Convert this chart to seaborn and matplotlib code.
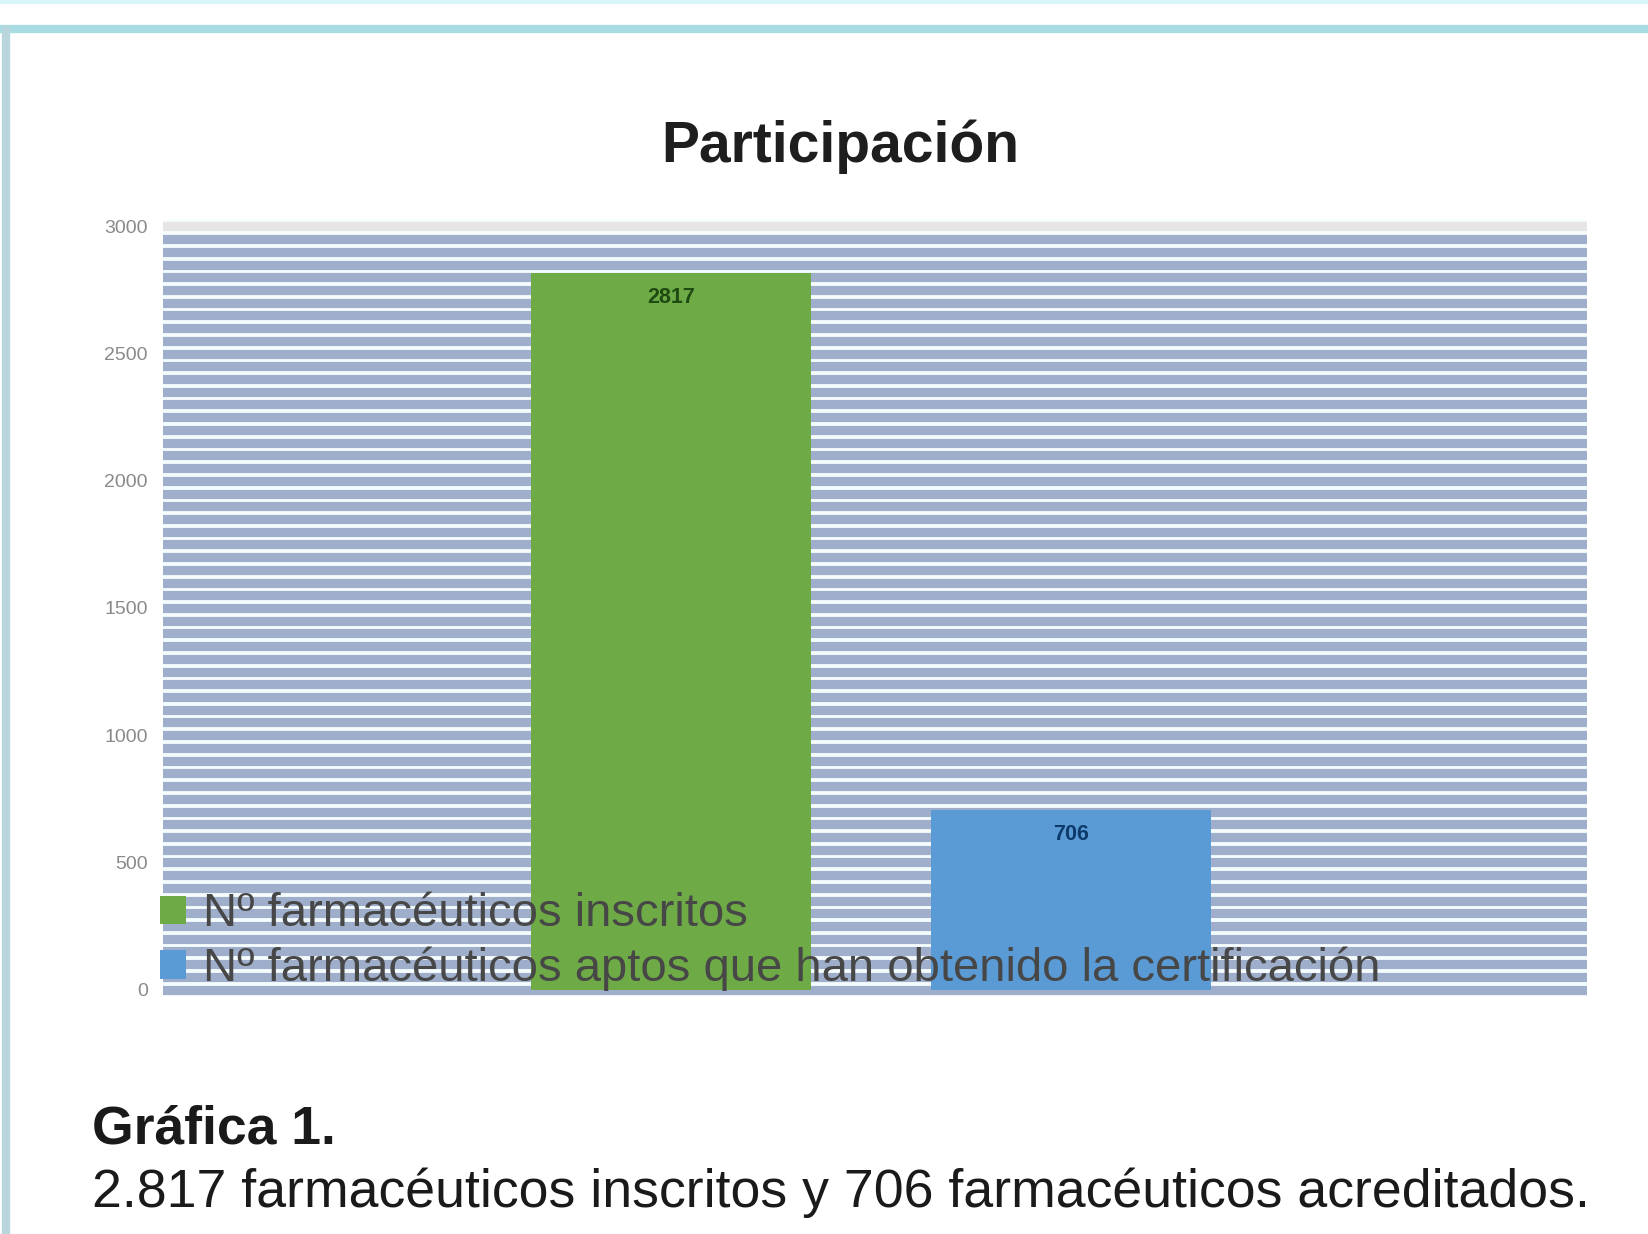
import matplotlib
matplotlib.use("Agg")
import matplotlib.pyplot as plt
from matplotlib.ticker import MultipleLocator
from matplotlib.lines import Line2D
import seaborn as sns
import pandas as pd

# data
series = ["Nº farmacéuticos inscritos", "Nº farmacéuticos aptos que han obtenido la certificación"]
values = [2817, 706]
colors = ["#6eab46", "#5b9bd5"]
label_colors = ["#1f4a12", "#0c3a6a"]
yticks = [0, 500, 1000, 1500, 2000, 2500, 3000]

df = pd.DataFrame({"serie": series, "valor": values})

sns.set_style("white")
plt.rcParams["font.family"] = ["Liberation Sans", "DejaVu Sans"]

fig = plt.figure(figsize=(16.48, 12.34), dpi=100)
ax = fig.add_axes([163 / 1648, 1 - 996 / 1234, 1424 / 1648, 776 / 1234])
ax.set_facecolor("#f5fcfe")

sns.barplot(data=df, x="serie", y="valor", hue="serie", palette=colors,
            width=0.7, dodge=False, legend=True, saturation=1, linewidth=0,
            ax=ax, zorder=3)

#striped background = gridlines every 50
ax.set_ylim(-25, 3025)
ax.set_yticks(yticks)
ax.yaxis.set_minor_locator(MultipleLocator(50))
ax.grid(axis="y", which="both", color="#9eaecb", linewidth=6.6, zorder=0)
ax.set_axisbelow(True)
ax.get_ygridlines()[-1].set_color("#e6e6e6")
ax.set_xlim(-1.27, 2.29)
ax.set_xticks([])
ax.set_xlabel("")
ax.set_ylabel("")
ax.tick_params(axis="y", length=0, pad=11, labelsize=14, labelcolor="#8a8a8a")
for s in ax.spines.values():
    s.set_visible(False)

# value labels inside top of bars
for cont, c in zip(ax.containers, label_colors):
    ax.bar_label(cont, fmt="%d", padding=-25,
                 fontsize=15.5, color=c, fontweight="bold", zorder=5)

leg = ax.legend(loc="lower left", bbox_to_anchor=(-0.002, 0.006), frameon=False,
                fontsize=34, handlelength=0.55, handleheight=0.55,
                handletextpad=0.35, labelspacing=0.22, borderpad=0, borderaxespad=0)
leg.set_zorder(6)
for t in leg.get_texts():
    t.set_color("#474747")

fig.text(0.51, 1 - 147 / 1234, "Participación", ha="center", va="center",
         fontsize=41, fontweight="bold", color="#1e1e1e")
fig.text(92 / 1648, 1 - 1129 / 1234, "Gráfica 1.", ha="left", va="center",
         fontsize=38.5, fontweight="bold", color="#1a1a1a")
fig.text(92 / 1648, 1 - 1193 / 1234,
         "2.817 farmacéuticos inscritos y 706 farmacéuticos acreditados.",
         ha="left", va="center", fontsize=38.6, color="#1a1a1a")

#frame lines of the page
fig.add_artist(Line2D([0, 1], [1 - 29 / 1234, 1 - 29 / 1234], transform=fig.transFigure,
                      color="#a8dce2", linewidth=6, solid_capstyle="butt"))
fig.add_artist(Line2D([0, 1], [1 - 2 / 1234, 1 - 2 / 1234], transform=fig.transFigure,
                      color="#d8f6f8", linewidth=3, solid_capstyle="butt"))
fig.add_artist(Line2D([6 / 1648, 6 / 1648], [0, 1 - 26 / 1234], transform=fig.transFigure,
                      color="#b8d6dc", linewidth=6, solid_capstyle="butt"))

fig.savefig("out.png", dpi=100)
